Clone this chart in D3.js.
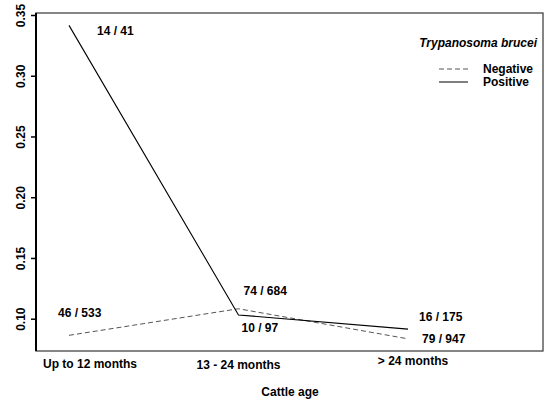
<!DOCTYPE html>
<html>
<head>
<meta charset="utf-8">
<script src="https://cdn.jsdelivr.net/npm/d3@7"></script>
<style>
  html, body { margin: 0; padding: 0; background: #fff; }
  svg { display: block; font-family: "Liberation Sans", Arial, sans-serif; }
</style>
</head>
<body>
<svg id="chart" width="554" height="403"></svg>
<script>
// Cattle age groups and Trypanosoma brucei prevalence (positive / examined)
const ageGroups = ["Up to 12 months", "13 - 24 months", "> 24 months"];
const positiveCounts = [[14, 41], [10, 97], [16, 175]];
const negativeCounts = [[46, 533], [74, 684], [79, 947]];
const yTicks = [0.10, 0.15, 0.20, 0.25, 0.30, 0.35];
const seriesNames = ["Negative", "Positive"];
const legendTitle = "Trypanosoma brucei";
const xTitle = "Cattle age";

const svg = d3.select("#chart");
const box = { left: 36, right: 543, top: 13, bottom: 351 };

const x = d3.scalePoint().domain(ageGroups).range([69, 408]);
const y = d3.scaleLinear().domain([0.10, 0.35]).range([318.7, 15]);

const rate = d => d[0] / d[1];

// frame
svg.append("rect")
  .attr("x", box.left).attr("y", box.top)
  .attr("width", box.right - box.left).attr("height", box.bottom - box.top)
  .attr("fill", "none").attr("stroke", "#444").attr("stroke-width", 1.3);

// y axis
const yAxis = svg.append("g").attr("transform", `translate(${box.left},0)`)
  .call(d3.axisLeft(y).tickValues(yTicks).tickFormat(d3.format(".2f")).tickSize(5));
yAxis.select(".domain").remove();
yAxis.append("line").attr("x1", 0).attr("x2", 0)
  .attr("y1", box.top).attr("y2", box.bottom).attr("stroke", "#000").attr("stroke-width", 2);
yAxis.selectAll(".tick line").attr("stroke", "#000").attr("stroke-width", 1.5);
yAxis.selectAll(".tick text")
  .attr("fill", "#000").attr("font-size", 12).attr("font-weight", "bold")
  .attr("font-family", "Liberation Sans, Arial, sans-serif")
  .attr("transform", "rotate(-90)")
  .attr("x", 0).attr("y", -11).attr("dy", 0)
  .attr("text-anchor", "middle");

// x axis category labels
const xLabelShift = [21, 0, 5];
const xLabelY = [368, 369, 365];
svg.append("g").selectAll("text").data(ageGroups).join("text")
  .attr("x", (d, i) => x(d) + xLabelShift[i])
  .attr("y", (d, i) => xLabelY[i])
  .attr("text-anchor", "middle")
  .attr("font-size", 12).attr("font-weight", "bold")
  .text(d => d);

svg.append("text")
  .attr("x", 290).attr("y", 396)
  .attr("text-anchor", "middle")
  .attr("font-size", 12).attr("font-weight", "bold")
  .text(xTitle);

// series lines
const line = d3.line().x((d, i) => x(ageGroups[i])).y(d => y(rate(d)));

svg.append("path").datum(negativeCounts)
  .attr("d", line).attr("fill", "none")
  .attr("stroke", "#555").attr("stroke-width", 1).attr("stroke-dasharray", "5,3");

svg.append("path").datum(positiveCounts)
  .attr("d", line).attr("fill", "none")
  .attr("stroke", "#000").attr("stroke-width", 1.1);

// count labels
const fmt = d => `${d[0]} / ${d[1]}`;
const posLabelOffset = [[28, 10], [3, 17], [11, -8]];
const negLabelOffset = [[-11, -18], [5, -14], [14, 4]];

svg.append("g").selectAll("text").data(positiveCounts).join("text")
  .attr("x", (d, i) => x(ageGroups[i]) + posLabelOffset[i][0])
  .attr("y", (d, i) => y(rate(d)) + posLabelOffset[i][1])
  .attr("font-size", 12).attr("font-weight", "bold")
  .text(fmt);

svg.append("g").selectAll("text").data(negativeCounts).join("text")
  .attr("x", (d, i) => x(ageGroups[i]) + negLabelOffset[i][0])
  .attr("y", (d, i) => y(rate(d)) + negLabelOffset[i][1])
  .attr("font-size", 12).attr("font-weight", "bold")
  .text(fmt);

// legend
const legend = svg.append("g");
legend.append("text")
  .attr("x", 537).attr("y", 47).attr("text-anchor", "end")
  .attr("font-size", 12).attr("font-weight", "bold").attr("font-style", "italic")
  .text(legendTitle);

const legendRows = legend.selectAll("g.row").data(seriesNames).join("g")
  .attr("class", "row")
  .attr("transform", (d, i) => `translate(0,${69 + i * 13})`);
legendRows.append("line")
  .attr("x1", 439).attr("x2", 468).attr("y1", 0).attr("y2", 0)
  .attr("stroke", (d, i) => i === 0 ? "#555" : "#000")
  .attr("stroke-width", 1)
  .attr("stroke-dasharray", (d, i) => i === 0 ? "5,3" : null);
legendRows.append("text")
  .attr("x", 483).attr("y", 4)
  .attr("font-size", 12).attr("font-weight", "bold")
  .text(d => d);
</script>
</body>
</html>
